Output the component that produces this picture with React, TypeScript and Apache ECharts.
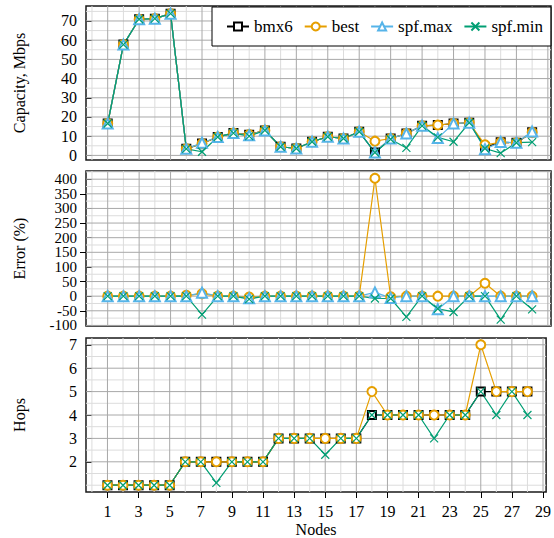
import React, { useEffect, useRef } from "react";
import * as echarts from "echarts";

// Node identifiers along the shared x axis
const nodes = [1, 2, 3, 4, 5, 6, 7, 8, 9, 10, 11, 12, 13, 14, 15, 16, 17, 18, 19, 20, 21, 22, 23, 24, 25, 26, 27, 28];

// Capacity, Mbps
const capBmx6 = [16.6, 57.7, 70.9, 71.2, 73.8, 3.4, 6.2, 9.6, 11.6, 10.8, 13.0, 4.5, 3.6, 7.1, 9.7, 8.8, 12.3, 1.5, 8.8, 11.4, 15.4, 15.8, 16.6, 17.0, 4.3, 6.8, 6.6, 12.0];
const capBest = [16.6, 57.7, 70.9, 71.2, 73.8, 3.4, 6.2, 9.6, 11.6, 10.8, 13.0, 4.5, 3.6, 7.1, 9.7, 8.8, 12.3, 7.4, 8.8, 11.4, 15.4, 15.8, 16.6, 17.0, 5.5, 6.8, 6.6, 12.0];
const capSpfMax = [16.6, 57.7, 70.9, 71.2, 73.8, 3.4, 6.6, 9.6, 11.6, 10.5, 13.0, 4.5, 3.6, 7.1, 9.7, 8.8, 12.3, 1.5, 8.8, 11.4, 15.4, 9.0, 16.6, 17.0, 3.2, 7.0, 6.6, 12.4];
const capSpfMin = [16.6, 57.7, 70.9, 71.2, 73.8, 3.4, 1.9, 9.6, 11.6, 10.0, 13.0, 4.5, 3.6, 7.1, 9.7, 8.8, 12.3, 1.5, 8.4, 3.9, 15.4, 9.4, 7.1, 17.0, 3.6, 1.2, 6.6, 6.9];

// Error (%)
const errBest = [0, 0, 0, 0, 0, 3, 8, 0, 0, -3, 0, 0, 0, 0, 0, 0, 0, 403, -2, 0, 0, 0, 0, 0, 44, 0, 0, 0];
const errSpfMax = [0, 0, 0, 0, 0, 0, 12, 0, 0, -7, 0, 0, 0, 0, 0, 0, 0, 13, -6, 0, 0, -45, 0, 0, 0, 0, 0, 0];
const errSpfMin = [0, 0, 0, 0, 0, 0, -63, 0, 0, -10, 0, 0, 0, 0, 0, 0, 0, -8, -8, -71, 0, -43, -54, 0, 0, -80, 0, -45];

// Hops
const hopsBmx6 = [1, 1, 1, 1, 1, 2, 2, 2, 2, 2, 2, 3, 3, 3, 3, 3, 3, 4, 4, 4, 4, 4, 4, 4, 5, 5, 5, 5];
const hopsBest = [1, 1, 1, 1, 1, 2, 2, 2, 2, 2, 2, 3, 3, 3, 3, 3, 3, 5, 4, 4, 4, 4, 4, 4, 7, 5, 5, 5];
const hopsSpfMin = [1, 1, 1, 1, 1, 2, 2, 1.1, 2, 2, 2, 3, 3, 3, 2.3, 3, 3, 4, 4, 4, 4, 3, 4, 4, 5, 4, 5, 4];

// Tick labels
const xTicks = [1, 3, 5, 7, 9, 11, 13, 15, 17, 19, 21, 23, 25, 27, 29];
const xMinorGrid = [0, 2, 4, 6, 8, 10, 12, 14, 16, 18, 20, 22, 24, 26, 28];
const capTicks = [0, 10, 20, 30, 40, 50, 60, 70];
const capMinorGrid = [5, 15, 25, 35, 45, 55, 65, 75];
const errTicks = [-100, -50, 0, 50, 100, 150, 200, 250, 300, 350, 400];
const errTicksEven = [-100, 0, 100, 200, 300, 400];
const errTicksOdd = [-50, 50, 150, 250, 350];
const errMinorGrid = [-75, -25, 25, 75, 125, 175, 225, 275, 325, 375, 425];
const hopsTicks = [2, 3, 4, 5, 6, 7];
const hopsMinorGrid = [1, 1.5, 2.5, 3.5, 4.5, 5.5, 6.5];

const FONT = '"Liberation Serif", "Times New Roman", serif';
const COLORS: Record<string, string> = {
  bmx6: "#000000",
  best: "#E69F00",
  "spf.max": "#56B4E9",
  "spf.min": "#009E73",
};
const SYMBOLS: Record<string, string> = {
  bmx6: "emptyRect",
  best: "emptyCircle",
  "spf.max": "emptyTriangle",
  "spf.min": "path://M0,0L10,10M10,0L0,10",
};
const SIZES: Record<string, number> = { bmx6: 8, best: 9, "spf.max": 10, "spf.min": 8 };

function lineSeries(name: string, values: number[], idx: number) {
  const c = COLORS[name];
  return {
    type: "line",
    name,
    xAxisIndex: idx,
    yAxisIndex: idx,
    data: nodes.map((n, i) => [n, values[i]]),
    symbol: SYMBOLS[name],
    symbolSize: SIZES[name],
    showAllSymbol: true,
    lineStyle: { color: c, width: 1.2 },
    itemStyle: { color: c, borderColor: c, borderWidth: 1.2 },
    z: 3,
  };
}

function gridSeries(idx: number, yMajor: number[], yMinor: number[]) {
  // [orientation (0 vertical, 1 horizontal), value, isMajor]
  const data: number[][] = [];
  xMinorGrid.forEach((v) => data.push([0, v, 0]));
  yMinor.forEach((v) => data.push([1, v, 0]));
  xTicks.forEach((v) => data.push([0, v, 1]));
  yMajor.forEach((v) => data.push([1, v, 1]));
  return {
    type: "custom",
    xAxisIndex: idx,
    yAxisIndex: idx,
    silent: true,
    z: 1,
    encode: { x: 1, y: 1 },
    data,
    renderItem: (params: any, api: any) => {
      const orient = api.value(0);
      const v = api.value(1);
      const major = api.value(2) === 1;
      const cs = params.coordSys;
      const style = { stroke: major ? "#a8a8a8" : "#dcdcdc", lineWidth: 1 };
      if (orient === 0) {
        const x = api.coord([v, yMajor[0]])[0];
        return { type: "line", shape: { x1: x, y1: cs.y, x2: x, y2: cs.y + cs.height }, style };
      }
      const y = api.coord([1, v])[1];
      return { type: "line", shape: { x1: cs.x, y1: y, x2: cs.x + cs.width, y2: y }, style };
    },
  };
}

const X_MIN = -0.38;
const X_MAX = 29.2;

function xAxis(idx: number, bottom: boolean) {
  return {
    type: "value",
    gridIndex: idx,
    min: X_MIN,
    max: X_MAX,
    splitLine: { show: false },
    axisLine: { show: false },
    axisTick: bottom
      ? { show: true, inside: false, length: 6, customValues: xTicks, lineStyle: { color: "#000", width: 1 } }
      : { show: false },
    axisLabel: bottom
      ? {
          show: true,
          customValues: xTicks,
          showMinLabel: true,
          showMaxLabel: true,
          margin: 11,
          fontFamily: FONT,
          fontSize: 16,
          color: "#000",
        }
      : { show: false },
    name: bottom ? "Nodes" : "",
    nameLocation: "middle",
    nameGap: 29,
    nameTextStyle: { fontFamily: FONT, fontSize: 16, color: "#000" },
  };
}

function yAxis(idx: number, name: string, min: number, max: number, ticks: number[], fontSize: number) {
  return {
    type: "value",
    gridIndex: idx,
    position: "left",
    min,
    max,
    splitLine: { show: false },
    axisLine: { show: false },
    axisTick: { show: true, inside: false, length: 6, customValues: ticks, lineStyle: { color: "#000", width: 1 } },
    axisLabel: {
      customValues: ticks,
      showMinLabel: true,
      showMaxLabel: true,
      margin: 9,
      fontFamily: FONT,
      fontSize,
      color: "#000",
    },
    name,
    nameLocation: "middle",
    nameGap: 59,
    nameTextStyle: { fontFamily: FONT, fontSize: 16, color: "#000" },
  };
}

const ERR_MIN = -102;
const ERR_MAX = 428;

export default function App() {
  const ref = useRef<HTMLDivElement>(null);

  useEffect(() => {
    document.body.style.margin = "0";
    if (!ref.current) return;
    const chart = echarts.init(ref.current, null, { renderer: "svg" });
    const frame = { show: true, borderColor: "#1a1a1a", borderWidth: 1.5, backgroundColor: "transparent" };
    chart.setOption({
      animation: false,
      backgroundColor: "#fff",
      textStyle: { fontFamily: FONT },
      grid: [
        { left: 86, top: 6, width: 465, height: 154, ...frame },
        { left: 86, top: 171, width: 465, height: 155, ...frame },
        { left: 86, top: 338, width: 465, height: 154, ...frame },
      ],
      legend: {
        data: ["bmx6", "best", "spf.max", "spf.min"],
        left: 212,
        top: 7,
        orient: "horizontal",
        itemWidth: 22,
        itemHeight: 10,
        itemGap: 11,
        padding: [11, 8, 11, 14],
        backgroundColor: "#fff",
        borderColor: "#000",
        borderWidth: 1,
        borderRadius: 0,
        textStyle: { fontFamily: FONT, fontSize: 17, color: "#000" },
        z: 10,
      },
      xAxis: [xAxis(0, false), xAxis(1, false), xAxis(2, true)],
      yAxis: [
        yAxis(0, "Capacity, Mbps", -2.4, 77.8, capTicks, 16),
        // Error axis labels are split over two overlaid axes so the tightly
        // packed labels all stay visible
        yAxis(1, "Error (%)", ERR_MIN, ERR_MAX, errTicksEven, 15),
        yAxis(2, "Hops", 0.71, 7.29, hopsTicks, 16),
        yAxis(1, "", ERR_MIN, ERR_MAX, errTicksOdd, 15),
      ],
      series: [
        gridSeries(0, capTicks, capMinorGrid),
        gridSeries(1, errTicks, errMinorGrid),
        gridSeries(2, hopsTicks, hopsMinorGrid),
        lineSeries("bmx6", capBmx6, 0),
        lineSeries("best", capBest, 0),
        lineSeries("spf.max", capSpfMax, 0),
        lineSeries("spf.min", capSpfMin, 0),
        lineSeries("best", errBest, 1),
        lineSeries("spf.max", errSpfMax, 1),
        lineSeries("spf.min", errSpfMin, 1),
        lineSeries("bmx6", hopsBmx6, 2),
        lineSeries("best", hopsBest, 2),
        lineSeries("spf.min", hopsSpfMin, 2),
      ],
    });
    return () => chart.dispose();
  }, []);

  return <div ref={ref} style={{ width: 554, height: 538 }} />;
}
